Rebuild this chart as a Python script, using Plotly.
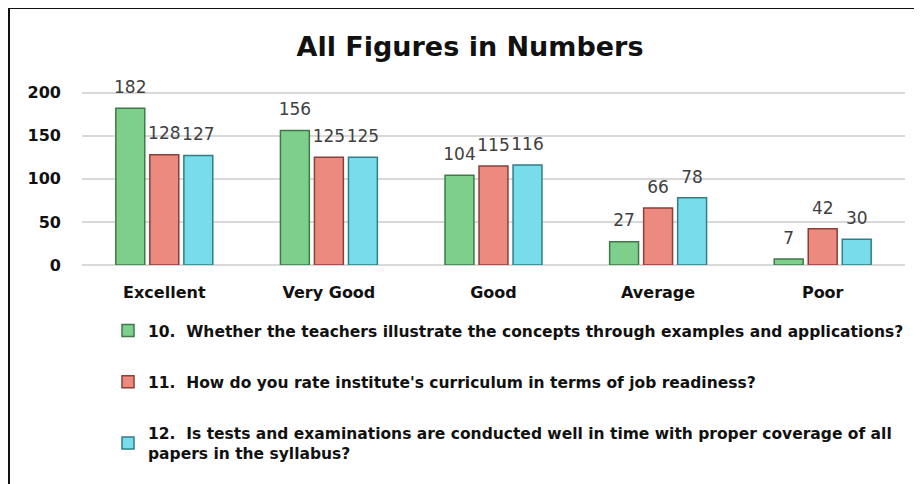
import plotly.graph_objects as go

categories = ["Excellent", "Very Good", "Good", "Average", "Poor"]
q10 = [182, 156, 104, 27, 7]
q11 = [128, 125, 115, 66, 42]
q12 = [127, 125, 116, 78, 30]
names = [
    "10.  Whether the teachers illustrate the concepts through examples and applications?",
    "11.  How do you rate institute's curriculum in terms of job readiness?",
    "12.  Is tests and examinations are conducted well in time with proper coverage of all<br>papers in the syllabus?",
]
fills = ["#7FCF8C", "#EC8A80", "#78DCEA"]
edges = ["#3E7A48", "#8A3F38", "#2F7E8A"]

# page body has an 8px margin; work in reference pixels and shift
OX, OY = 8, 8
W, H = 922 - OX, 484 - OY
plot_l, plot_r, plot_t, plot_b = 82 - OX, 905 - OX, 84 - OY, 265 - OY
ml, mr, mt, mb = plot_l, W - plot_r, plot_t, H - plot_b
pw, ph = plot_r - plot_l, plot_b - plot_t

def px_x(p):
    return (p - OX - ml) / pw

def px_y(p):
    return (plot_b - (p - OY)) / ph

FONT = "DejaVu Sans"
GAP = 0.38

fig = go.Figure()
series = [q10, q11, q12]
for i, vals in enumerate(series):
    fig.add_trace(go.Bar(
        x=categories, y=vals, name="<b>" + names[i].replace("<br>", "</b><br><b>") + "</b>",
        legendgroup=f"g{i}",
        marker=dict(color=fills[i], line=dict(color=edges[i], width=1.5)),
        hoverinfo="x+y",
    ))
for i, vals in enumerate(series):
    fig.add_trace(go.Scatter(
        x=categories, y=vals, mode="markers+text", text=vals,
        textposition="top center", showlegend=False, hoverinfo="skip",
        marker=dict(size=16, opacity=0),
        textfont=dict(family=FONT, size=17, color="#404040"),
        cliponaxis=False,
    ))

fig.update_layout(
    width=W, height=H,
    margin=dict(l=ml, r=mr, t=mt, b=mb),
    paper_bgcolor="white", plot_bgcolor="white",
    barmode="group", bargap=GAP, bargroupgap=0.15,
    scattermode="group", scattergap=GAP,
    title=dict(text="<b>All Figures in Numbers</b>", x=px_x(470), xref="paper",
               xanchor="center", y=1 - (47 - OY) / H, yanchor="middle",
               font=dict(family=FONT, size=27, color="#111111")),
    xaxis=dict(showgrid=False, showline=False, ticks="",
               tickfont=dict(family=FONT, size=16, color="#111111", weight="bold"),
               ticklabelstandoff=16),
    yaxis=dict(range=[0, 210], tickvals=[0, 50, 100, 150, 200], showgrid=True,
               gridcolor="#D9D9D9", gridwidth=1.5, zeroline=True, zerolinecolor="#D9D9D9",
               zerolinewidth=1.5,
               tickfont=dict(family=FONT, size=16, color="#111111", weight="bold"),
               ticklabelstandoff=20),
    showlegend=True,
    legend=dict(x=px_x(108), y=px_y(314), xanchor="left", yanchor="top",
                orientation="v", traceorder="grouped", tracegroupgap=28,
                itemwidth=30,
                font=dict(family=FONT, size=15.5, color="#111111"),
                bgcolor="rgba(0,0,0,0)"),
    shapes=[dict(type="rect", xref="paper", yref="paper",
                 x0=px_x(9), x1=px_x(940), y0=px_y(8), y1=px_y(520),
                 line=dict(color="#111111", width=2), fillcolor="rgba(0,0,0,0)",
                 layer="above")],
)

fig.write_html("out.html")
